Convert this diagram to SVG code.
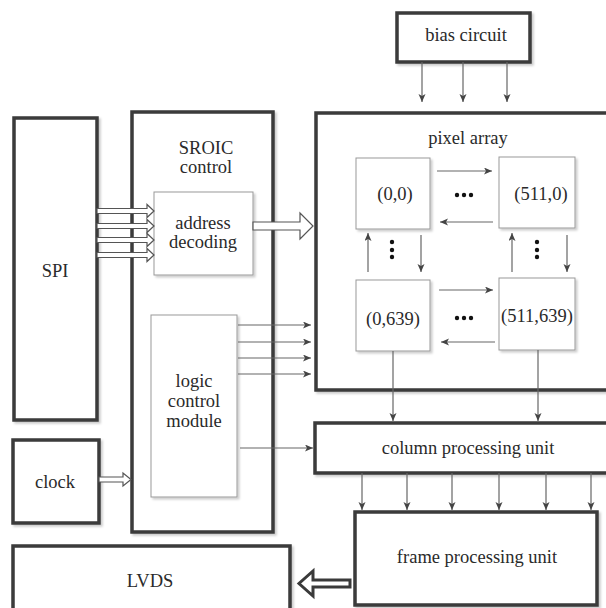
<svg xmlns="http://www.w3.org/2000/svg" width="606" height="608" viewBox="0 0 606 608">
<style>
.thick{fill:#fff;stroke:#3a3a3a;stroke-width:3.5;filter:url(#sh)}
.thin{fill:#fff;stroke:#999;stroke-width:1;filter:url(#sh)}
text{font-family:'Liberation Serif','DejaVu Serif','Times New Roman',serif;font-size:18.5px;fill:#2a2a2a;text-anchor:middle}
.a{stroke:#666;stroke-width:1.2;fill:none;marker-end:url(#ah)}
.h{fill:#fff;stroke:#555;stroke-width:1.2}
.H{fill:#fff;stroke:#3a3a3a;stroke-width:3}
.dot{fill:#111}
</style>
<defs>
<filter id="sh" x="-10%" y="-10%" width="130%" height="130%">
<feDropShadow dx="2" dy="2" stdDeviation="1.2" flood-color="#000" flood-opacity="0.2"/>
</filter>
<marker id="ah" markerUnits="userSpaceOnUse" markerWidth="10" markerHeight="8" refX="8" refY="3.5" orient="auto">
<path d="M0,0 L8,3.5 L0,7 L2,3.5 z" fill="#444"/>
</marker>
</defs>

<g id="spi"><rect class="thick" x="14" y="118" width="83" height="302"/><text x="55" y="277">SPI</text></g>
<g id="sroic"><rect class="thick" x="132" y="112" width="141" height="420"/><text x="206" y="154">SROIC</text><text x="206" y="173">control</text></g>
<g id="addr"><rect class="thin" x="154" y="192" width="99" height="83"/><text x="203" y="229">address</text><text x="203" y="248">decoding</text></g>
<g id="logic"><rect class="thin" x="151" y="315" width="86" height="182"/><text x="194" y="387">logic</text><text x="194" y="407">control</text><text x="194" y="427">module</text></g>
<g id="clock"><rect class="thick" x="13" y="440" width="86" height="83"/><text x="55" y="488">clock</text></g>
<g id="lvds"><rect class="thick" x="13" y="546" width="277" height="70"/><text x="150" y="587">LVDS</text></g>
<g id="bias"><rect class="thick" x="397" y="13" width="133" height="49"/><text x="466" y="41">bias circuit</text></g>
<g id="pixel"><rect class="thick" x="316" y="113" width="300" height="277"/><text x="468" y="144">pixel array</text></g>
<g id="p00"><rect class="thin" x="356" y="158" width="74" height="71"/><text x="395" y="200">(0,0)</text></g>
<g id="p5110"><rect class="thin" x="499" y="157" width="76" height="71"/><text x="541" y="200">(511,0)</text></g>
<g id="p0639"><rect class="thin" x="356" y="280" width="74" height="71"/><text x="393" y="325">(0,639)</text></g>
<g id="p511639"><rect class="thin" x="499" y="278" width="76" height="72"/><text x="537" y="322">(511,639)</text></g>
<g id="column"><rect class="thick" x="315" y="423" width="300" height="50"/><text x="468" y="454">column processing unit</text></g>
<g id="frame"><rect class="thick" x="355" y="512" width="242" height="93"/><text x="477" y="563">frame processing unit</text></g>

<g id="dots">
<circle class="dot" cx="457" cy="195" r="2.2"/><circle class="dot" cx="464" cy="195" r="2.2"/><circle class="dot" cx="471" cy="195" r="2.2"/>
<circle class="dot" cx="457" cy="318" r="2.2"/><circle class="dot" cx="464" cy="318" r="2.2"/><circle class="dot" cx="471" cy="318" r="2.2"/>
<circle class="dot" cx="392" cy="242" r="2.2"/><circle class="dot" cx="392" cy="250" r="2.2"/><circle class="dot" cx="392" cy="257" r="2.2"/>
<circle class="dot" cx="537" cy="242" r="2.2"/><circle class="dot" cx="537" cy="250" r="2.2"/><circle class="dot" cx="537" cy="257" r="2.2"/>
</g>

<g id="connectors">
<polygon class="h" points="97,208.5 147,208.5 147,204.5 154,211 147,217.5 147,213.5 97,213.5"/>
<polygon class="h" points="97,223.5 147,223.5 147,219.5 154,226 147,232.5 147,228.5 97,228.5"/>
<polygon class="h" points="97,237.5 147,237.5 147,233.5 154,240 147,246.5 147,242.5 97,242.5"/>
<polygon class="h" points="97,252.5 147,252.5 147,248.5 154,255 147,261.5 147,257.5 97,257.5"/>
<polygon class="h" points="253,222 300,222 300,213 313,226 300,239 300,230 253,230"/>
<polygon class="h" points="99,477 123,477 123,473 131,479.5 123,486 123,482 99,482"/>
<polygon class="H" points="350,580 313,580 313,571 299,583.5 313,596 313,587 350,587"/>
<line class="a" x1="422" y1="62" x2="422" y2="102"/>
<line class="a" x1="463" y1="62" x2="463" y2="102"/>
<line class="a" x1="507" y1="62" x2="507" y2="102"/>
<line class="a" x1="437" y1="171" x2="492" y2="171"/>
<line class="a" x1="493" y1="222" x2="440" y2="222"/>
<line class="a" x1="439" y1="290" x2="493" y2="290"/>
<line class="a" x1="495" y1="342" x2="441" y2="342"/>
<line class="a" x1="368" y1="272" x2="368" y2="233"/>
<line class="a" x1="421" y1="235" x2="421" y2="272"/>
<line class="a" x1="512" y1="272" x2="512" y2="233"/>
<line class="a" x1="567" y1="235" x2="567" y2="272"/>
<line class="a" x1="393" y1="351" x2="393" y2="421"/>
<line class="a" x1="538" y1="350" x2="538" y2="421"/>
<line class="a" x1="238" y1="325" x2="311" y2="325"/>
<line class="a" x1="238" y1="342" x2="311" y2="342"/>
<line class="a" x1="238" y1="358" x2="311" y2="358"/>
<line class="a" x1="238" y1="374" x2="311" y2="374"/>
<line class="a" x1="240" y1="448" x2="313" y2="448"/>
<line class="a" x1="362" y1="473" x2="362" y2="510"/>
<line class="a" x1="407" y1="473" x2="407" y2="510"/>
<line class="a" x1="452" y1="473" x2="452" y2="510"/>
<line class="a" x1="499" y1="473" x2="499" y2="510"/>
<line class="a" x1="546" y1="473" x2="546" y2="510"/>
<line class="a" x1="591" y1="473" x2="591" y2="510"/>
</g>
</svg>
